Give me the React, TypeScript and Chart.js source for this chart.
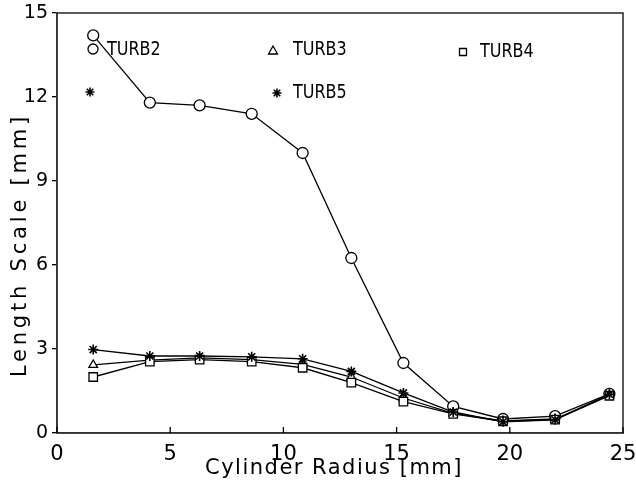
import React, { useEffect, useRef } from 'react';
import { Chart, registerables } from 'chart.js';

Chart.register(...registerables);

// ---- data ----
const radius = [1.6, 4.1, 6.3, 8.6, 10.85, 13.0, 15.3, 17.5, 19.7, 22.0, 24.4];
const turb2 = [14.2, 11.8, 11.7, 11.4, 10.0, 6.25, 2.5, 0.95, 0.5, 0.6, 1.4];
const turb3 = [2.43, 2.6, 2.68, 2.62, 2.45, 2.0, 1.25, 0.7, 0.43, 0.5, 1.35];
const turb4 = [2.0, 2.55, 2.62, 2.55, 2.33, 1.8, 1.12, 0.68, 0.42, 0.48, 1.33];
const turb5 = [2.98, 2.75, 2.75, 2.72, 2.65, 2.2, 1.43, 0.75, 0.4, 0.47, 1.38];
const seriesNames = ['TURB2', 'TURB3', 'TURB4', 'TURB5'];
const xTickValues = [0, 5, 10, 15, 20, 25];
const yTickValues = [0, 3, 6, 9, 12, 15];
const xTitle = 'Cylinder Radius [mm]';
const yTitle = 'Length Scale [mm]';

const FAMILY = "'DejaVu Sans', sans-serif";

function drawMarker(ctx: CanvasRenderingContext2D, style: string, x: number, y: number, r: number) {
  ctx.save();
  ctx.strokeStyle = '#000';
  ctx.fillStyle = '#fff';
  ctx.lineWidth = 1.3;
  ctx.beginPath();
  if (style === 'circle') {
    ctx.arc(x, y, r, 0, Math.PI * 2);
    ctx.fill();
    ctx.stroke();
  } else if (style === 'triangle') {
    ctx.moveTo(x, y - r);
    ctx.lineTo(x + r * 0.9, y + r * 0.6);
    ctx.lineTo(x - r * 0.9, y + r * 0.6);
    ctx.closePath();
    ctx.fill();
    ctx.stroke();
  } else if (style === 'rect') {
    ctx.rect(x - r, y - r, 2 * r, 2 * r);
    ctx.fill();
    ctx.stroke();
  } else if (style === 'star') {
    ctx.lineWidth = 1.6;
    const d = r * 0.72;
    ctx.moveTo(x, y - r); ctx.lineTo(x, y + r);
    ctx.moveTo(x - r, y); ctx.lineTo(x + r, y);
    ctx.moveTo(x - d, y - d); ctx.lineTo(x + d, y + d);
    ctx.moveTo(x - d, y + d); ctx.lineTo(x + d, y - d);
    ctx.stroke();
  }
  ctx.restore();
}

const framePlugin = {
  id: 'framePlugin',
  afterDraw(chart: any) {
    const { ctx, chartArea } = chart;
    const xs = chart.scales.x;
    ctx.save();
    // frame (top & right)
    ctx.strokeStyle = '#333';
    ctx.lineWidth = 1.6;
    ctx.strokeRect(chartArea.left, chartArea.top, chartArea.right - chartArea.left, chartArea.bottom - chartArea.top);
    // inward x ticks
    ctx.lineWidth = 1.3;
    ctx.strokeStyle = '#000';
    xTickValues.forEach((v) => {
      const px = xs.getPixelForValue(v);
      ctx.beginPath();
      ctx.moveTo(px, chartArea.bottom);
      ctx.lineTo(px, chartArea.bottom - 6);
      ctx.stroke();
    });

    // axis titles (spaced lettering like the original plotter font)
    ctx.fillStyle = '#000';
    ctx.textAlign = 'center';
    ctx.textBaseline = 'middle';
    ctx.font = `21px ${FAMILY}`;
    (ctx as any).letterSpacing = '1.5px';
    ctx.fillText(xTitle, 334, 469);
    ctx.save();
    ctx.translate(21, 245);
    ctx.rotate(-Math.PI / 2);
    (ctx as any).letterSpacing = '3.8px';
    ctx.fillText(yTitle, 0, 0);
    ctx.restore();
    (ctx as any).letterSpacing = '0px';

    // in-plot legend
    const L = chartArea.left;
    const T = chartArea.top;
    const items = [
      { name: seriesNames[0], style: 'circle', mx: 36, my: 36, r: 5, tx: 50, ty: 37 },
      { name: seriesNames[1], style: 'triangle', mx: 216, my: 38, r: 5, tx: 236, ty: 37 },
      { name: seriesNames[2], style: 'rect', mx: 406, my: 39, r: 3.5, tx: 423, ty: 39 },
      { name: seriesNames[3], style: 'star', mx: 220, my: 80, r: 4.5, tx: 236, ty: 80 },
      { name: '', style: 'star', mx: 33, my: 79, r: 4.5, tx: 0, ty: 0 },
    ];
    ctx.font = `20px ${FAMILY}`;
    ctx.textAlign = 'left';
    items.forEach((it) => {
      drawMarker(ctx, it.style, L + it.mx, T + it.my, it.r);
      if (it.name) {
        ctx.save();
        ctx.translate(L + it.tx, T + it.ty);
        ctx.scale(0.8, 1);
        ctx.fillText(it.name, 0, 0);
        ctx.restore();
      }
    });
    ctx.restore();
  },
};

function pts(ys: number[]) {
  return radius.map((x, i) => ({ x, y: ys[i] }));
}

export default function App() {
  const ref = useRef<HTMLCanvasElement | null>(null);
  useEffect(() => {
    if (!ref.current) return;
    const common = {
      borderColor: '#000',
      borderWidth: 1.3,
      pointBorderColor: '#000',
      pointBackgroundColor: '#fff',
      pointBorderWidth: 1.3,
      tension: 0,
      fill: false,
    };
    const chart = new Chart(ref.current, {
      type: 'line',
      data: {
        datasets: [
          { ...common, label: seriesNames[3], data: pts(turb5), pointStyle: 'star', pointRadius: 5, pointBorderWidth: 1.6 },
          { ...common, label: seriesNames[2], data: pts(turb4), pointStyle: 'rect', pointRadius: 6 },
          { ...common, label: seriesNames[1], data: pts(turb3), pointStyle: 'triangle', pointRadius: 5 },
          { ...common, label: seriesNames[0], data: pts(turb2), pointStyle: 'circle', pointRadius: 5.5 },
        ],
      },
      options: {
        animation: false,
        responsive: true,
        maintainAspectRatio: false,
        layout: { padding: { top: 13, right: 13, left: 0, bottom: 0 } },
        plugins: { legend: { display: false }, tooltip: { enabled: false } },
        scales: {
          x: {
            type: 'linear',
            min: 0,
            max: 25,
            afterFit: (s: any) => { s.height = 51; s.paddingLeft = 0; s.paddingRight = 0; },
            afterBuildTicks: (s: any) => { s.ticks = xTickValues.map((v) => ({ value: v })); },
            grid: { display: true, drawOnChartArea: false, drawTicks: false },
            border: { display: true, color: '#333', width: 1.6 },
            ticks: {
              color: '#000',
              padding: 9,
              font: { family: FAMILY, size: 21 },
              maxRotation: 0,
              callback: (v: any) => String(v),
            },
            title: { display: false, text: xTitle },
          },
          y: {
            type: 'linear',
            min: 0,
            max: 15,
            afterFit: (s: any) => { s.width = 57; s.paddingTop = 0; s.paddingBottom = 0; },
            afterBuildTicks: (s: any) => { s.ticks = yTickValues.map((v) => ({ value: v })); },
            grid: { display: true, drawOnChartArea: false, drawTicks: true, tickLength: 5, color: '#000', lineWidth: 1.3 },
            border: { display: true, color: '#333', width: 1.6 },
            ticks: {
              color: '#000',
              padding: 4,
              font: { family: FAMILY, size: 19 },
              callback: (v: any) => String(v),
            },
            title: { display: false, text: yTitle },
          },
        },
      },
      plugins: [framePlugin],
    } as any);
    return () => chart.destroy();
  }, []);

  return (
    <div style={{ position: 'absolute', left: 0, top: 0, width: 636, height: 484, background: '#fff' }}>
      <canvas ref={ref} />
    </div>
  );
}
